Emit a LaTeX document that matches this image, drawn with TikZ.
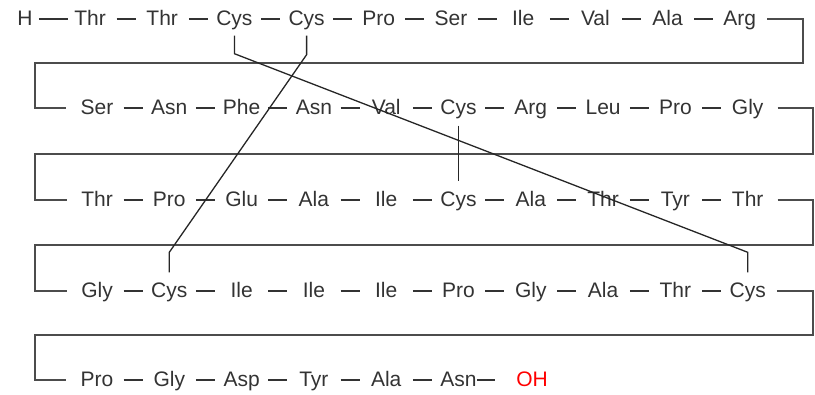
\documentclass[tikz,border=0pt]{standalone}
\usepackage{fontspec}
\setmainfont{Liberation Sans}
\usetikzlibrary{positioning, calc}

\begin{document}
\begin{tikzpicture}[x=1pt, y=-1pt,
	res/.style={inner sep=0pt, text height=14.5pt, text depth=0.5pt, text=black!80, font=\fontsize{21}{24}\selectfont},
	bond/.style={draw=black!80, line width=1.2pt},
	turn/.style={draw=black!70, line width=1.5pt},
	ss/.style={draw=black!85, line width=1.3pt}]
		
		\useasboundingbox (0,0) rectangle (815,395);
		
		% residues, row by row
		\node[res] (h) at (25,19) {H};
		\foreach \aa [count=\i] in {Thr,Thr,Cys,Cys,Pro,Ser,Ile,Val,Ala,Arg}
			\node[res] (a\i) at ({90+72.2*(\i-1)},19) {\aa};
		\foreach \aa [count=\i] in {Ser,Asn,Phe,Asn,Val,Cys,Arg,Leu,Pro,Gly}
			\node[res] (b\i) at ({97+72.3*(\i-1)},108) {\aa};
		\foreach \aa [count=\i] in {Thr,Pro,Glu,Ala,Ile,Cys,Ala,Thr,Tyr,Thr}
			\node[res] (c\i) at ({97+72.3*(\i-1)},200) {\aa};
		\foreach \aa [count=\i] in {Gly,Cys,Ile,Ile,Ile,Pro,Gly,Ala,Thr,Cys}
			\node[res] (d\i) at ({97+72.3*(\i-1)},291) {\aa};
		\foreach \aa [count=\i] in {Pro,Gly,Asp,Tyr,Ala,Asn}
			\node[res] (e\i) at ({97+72.3*(\i-1)},380) {\aa};
		\node[res, text=red] (oh) at (532,380) {OH};
		
		% peptide bonds
		\foreach \r/\n in {a/10,b/10,c/10,d/10,e/6}
			\foreach \i [remember=\i as \p (initially 1)] in {2,...,\n}
				\draw[bond] ($(\r\p)!.5!(\r\i)+(-9.5,0)$) -- ++(19,0);
		\draw[bond] ([xshift=6pt]h.east) -- ([xshift=-6pt]a1.west);
		\draw[bond] (e6.east) -- ([xshift=-21pt]oh.west);
		
		% chain turns
		\draw[turn] ([xshift=11pt]a10.east) -| (803,63) -| (35,108) -- ([xshift=-14pt]b1.west);
		\draw[turn] ([xshift=14pt]b10.east) -| (813,154) -| (35,200) -- ([xshift=-14pt]c1.west);
		\draw[turn] ([xshift=14pt]c10.east) -| (813,245) -| (35,291) -- ([xshift=-14pt]d1.west);
		\draw[turn] ([xshift=11pt]d10.east) -| (813,335) -| (35,380) -- ([xshift=-14pt]e1.west);
		
		% disulfide bridges
		\draw[ss] (a3.south) ++(0,9) -- ++(0,18) -- ($(d10.north)+(0,-31)$) -- ($(d10.north)+(0,-11)$);
		\draw[ss] (a4.south) ++(0,9) -- ++(0,19) -- ($(d2.north)+(0,-31)$) -- ($(d2.north)+(0,-11)$);
		\draw[ss] (b6.south) ++(0,10) -- ($(c6.north)+(0,-11)$);
		
\end{tikzpicture}
\end{document}
